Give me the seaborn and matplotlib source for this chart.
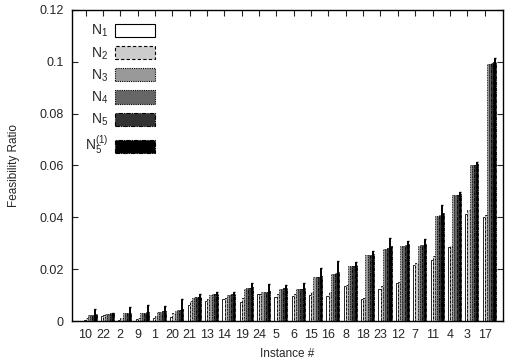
import numpy as np
import pandas as pd
import matplotlib
matplotlib.use('Agg')
import matplotlib.pyplot as plt
import seaborn as sns
from matplotlib.patches import Patch

instances = ['10', '22', '2', '9', '1', '20', '21', '13', '14', '19', '24', '5',
             '6', '15', '16', '8', '18', '23', '12', '7', '11', '4', '3', '17']

n1 = [0.0005, 0.0020, 0.0005, 0.0007, 0.0010, 0.0017, 0.0061, 0.0076, 0.0085, 0.0072, 0.0103, 0.0091,
      0.0096, 0.0102, 0.0098, 0.0134, 0.0085, 0.0122, 0.0145, 0.0216, 0.0235, 0.0284, 0.0414, 0.0400]
n2 = [0.0010, 0.0025, 0.0010, 0.0010, 0.0020, 0.0030, 0.0076, 0.0085, 0.0090, 0.0090, 0.0106, 0.0105,
      0.0105, 0.0110, 0.0110, 0.0137, 0.0090, 0.0134, 0.0150, 0.0222, 0.0250, 0.0288, 0.0428, 0.0410]
n3 = [0.0023, 0.0028, 0.0030, 0.0030, 0.0036, 0.0040, 0.0090, 0.0102, 0.0100, 0.0125, 0.0111, 0.0124,
      0.0122, 0.0169, 0.0182, 0.0211, 0.0253, 0.0278, 0.0290, 0.0290, 0.0405, 0.0486, 0.0600, 0.0991]
n4 = [0.0024, 0.0028, 0.0030, 0.0031, 0.0036, 0.0042, 0.0091, 0.0103, 0.0102, 0.0126, 0.0112, 0.0125,
      0.0123, 0.0170, 0.0183, 0.0212, 0.0254, 0.0279, 0.0291, 0.0292, 0.0406, 0.0487, 0.0601, 0.0992]
n5 = [0.0025, 0.0029, 0.0031, 0.0032, 0.0037, 0.0044, 0.0092, 0.0104, 0.0104, 0.0127, 0.0113, 0.0126,
      0.0125, 0.0171, 0.0184, 0.0213, 0.0255, 0.0281, 0.0293, 0.0295, 0.0408, 0.0488, 0.0603, 0.0994]
n5_1 = [0.0026, 0.0029, 0.0032, 0.0033, 0.0038, 0.0046, 0.0094, 0.0106, 0.0105, 0.0130, 0.0115, 0.0128,
        0.0127, 0.0175, 0.0190, 0.0216, 0.0260, 0.0290, 0.0296, 0.0298, 0.0415, 0.0490, 0.0605, 0.0998]
n5_1_err = [0.0020, 0.0002, 0.0023, 0.0027, 0.0020, 0.0038, 0.0010, 0.0007, 0.0006, 0.0015, 0.0028, 0.0012,
            0.0018, 0.0031, 0.0040, 0.0010, 0.0012, 0.0030, 0.0014, 0.0017, 0.0031, 0.0008, 0.0007, 0.0017]

series = [r'N$_1$', r'N$_2$', r'N$_3$', r'N$_4$', r'N$_5$', r'N$_5^{(1)}$']
values = [n1, n2, n3, n4, n5, n5_1]

rows = []
for name, vals in zip(series, values):
    for inst, v in zip(instances, vals):
        rows.append({'Instance': inst, 'Ratio': v, 'Series': name})
df = pd.DataFrame(rows)

sns.set_style('ticks')
plt.rcParams['font.family'] = ['Liberation Sans', 'DejaVu Sans']
plt.rcParams['mathtext.fontset'] = 'custom'
plt.rcParams['mathtext.rm'] = 'Liberation Sans'
plt.rcParams['mathtext.it'] = 'Liberation Sans:italic'

fig = plt.figure(figsize = (5.05, 3.63), dpi = 100)
ax = fig.add_axes([0.1426, 0.1157, 0.8534, 0.8568])

faces = ['white', '#cccccc', '#999999', '#666666', '#333333', 'black']
styles = ['-', (0, (3, 2)), (0, (1, 1)), (0, (1, 1)), (0, (4, 1, 1, 1)), (0, (4, 1, 1, 1))]

sns.barplot(
    data = df, x = 'Instance', y = 'Ratio', hue = 'Series',
    order = instances, hue_order = series, width = 0.75,
    errorbar = None, legend = False, ax = ax,
    )

for cont, fc, ls in zip(ax.containers, faces, styles):
    for bar in cont:
        bar.set_facecolor(fc)
        bar.set_edgecolor('black')
        bar.set_linewidth(0.6)
        bar.set_linestyle(ls)

# Error bars on the last series
xs = [b.get_x() + b.get_width() / 2 for b in ax.containers[5]]
ax.errorbar(xs, n5_1, yerr = n5_1_err, fmt = 'none', ecolor = 'black',
            elinewidth = 1.4, capsize = 0.8, capthick = 1.0)

ax.set_xlim(-1.04, 23.8)
ax.set_ylim(0, 0.12)
ax.set_yticks([0, 0.02, 0.04, 0.06, 0.08, 0.1, 0.12])
ax.set_yticklabels(['0', '0.02', '0.04', '0.06', '0.08', '0.1', '0.12'])
ax.set_xticks(np.arange(len(instances)) - 0.26)
ax.set_xticklabels(instances)
ax.tick_params(direction = 'in', length = 4, width = 0.8, labelsize = 9,
               top = True, right = True, pad = 6)
ax.tick_params(axis = 'x', bottom = False)
for s in ax.spines.values():
    s.set_linewidth(1.0)
    s.set_color('black')

ax.set_xlabel('Instance #', fontsize = 8.5, labelpad = 5)
ax.set_ylabel('Feasibility Ratio', fontsize = 8.5, labelpad = 14)

handles = [Patch(facecolor = fc, edgecolor = 'black', linestyle = ls, linewidth = 0.8)
           for fc, ls in zip(faces, styles)]
ax.legend(handles, series, loc = 'upper left', bbox_to_anchor = (0.01, 0.985),
          frameon = False, markerfirst = False, handlelength = 2.9, handleheight = 1.1,
          labelspacing = 0.42, fontsize = 10, handletextpad = 0.5, borderaxespad = 0.2)

plt.savefig('out.png', dpi = 100)
